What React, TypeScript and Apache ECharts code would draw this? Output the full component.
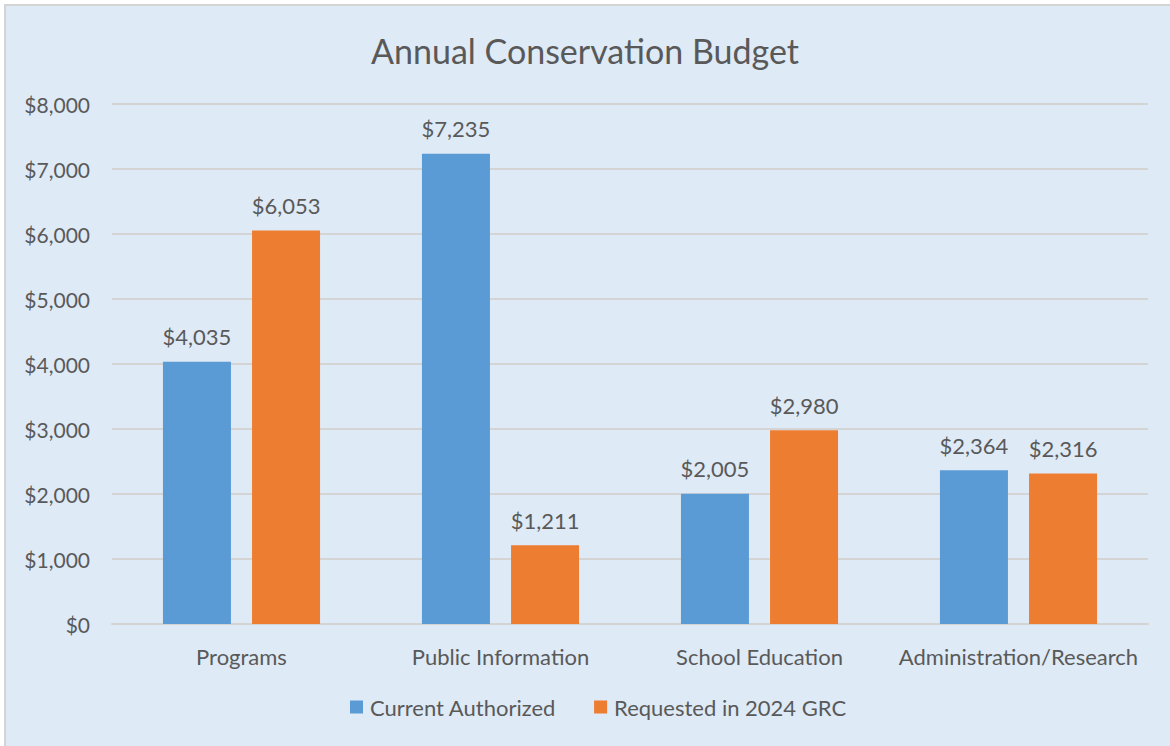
import React, { useEffect, useRef } from "react";
import * as echarts from "echarts";

const categories = ["Programs", "Public Information", "School Education", "Administration/Research"];
const currentAuthorized = [4035, 7235, 2005, 2364];
const requested2024 = [6053, 1211, 2980, 2316];
const seriesNames = ["Current Authorized", "Requested in 2024 GRC"];
const yTicks = { min: 0, max: 8000, interval: 1000 };

const FONT = "Lato, 'Open Sans', sans-serif";
const TEXT = "#595959";

const money = (v: number) => "$" + Number(v).toLocaleString("en-US");

export default function App() {
  const ref = useRef<HTMLDivElement>(null);
  useEffect(() => {
    if (!ref.current) return;
    const chart = echarts.init(ref.current, null, { renderer: "svg" });
    const labelCfg = {
      show: true,
      position: "top",
      distance: 14,
      formatter: (p: any) => money(p.value),
      color: TEXT,
      fontSize: 22,
      fontFamily: FONT,
    };
    chart.setOption({
      animation: false,
      backgroundColor: "#ffffff",
      textStyle: { fontFamily: FONT },
      graphic: [
        {
          type: "rect",
          shape: { x: 5, y: 5, width: 1170, height: 746 },
          style: { fill: "#DEEAF6", stroke: "#D4D4D4", lineWidth: 2 },
          z: -10,
          silent: true,
        },
      ],
      title: {
        text: "Annual Conservation Budget",
        left: "center",
        top: 28,
        textStyle: { color: TEXT, fontSize: 34, fontWeight: "normal", fontFamily: FONT },
      },
      legend: {
        bottom: 23,
        left: 345,
        itemWidth: 13,
        itemHeight: 13,
        itemGap: 38,
        icon: "rect",
        textStyle: { color: TEXT, fontSize: 22, fontFamily: FONT, padding: [0, 0, 0, 2] },
        data: seriesNames,
      },
      grid: { left: 112, right: 22, top: 104, bottom: 122, containLabel: false },
      xAxis: {
        type: "category",
        data: categories,
        axisLine: { show: true, lineStyle: { color: "#D4D4D4", width: 2 } },
        axisTick: { show: false },
        axisLabel: { color: TEXT, fontSize: 22, fontFamily: FONT, margin: 21, interval: 0 },
      },
      yAxis: {
        type: "value",
        min: yTicks.min,
        max: yTicks.max,
        interval: yTicks.interval,
        axisLine: { show: false },
        axisTick: { show: false },
        splitLine: { lineStyle: { color: "#D4D4D4", width: 2 } },
        axisLabel: { color: TEXT, fontSize: 21, fontFamily: FONT, margin: 22, formatter: (v: number) => money(v) },
      },
      series: [
        {
          name: seriesNames[0],
          type: "bar",
          data: currentAuthorized,
          barWidth: 68,
          barGap: "31%",
          itemStyle: { color: "#5B9BD5" },
          label: labelCfg,
        },
        {
          name: seriesNames[1],
          type: "bar",
          data: requested2024,
          barWidth: 68,
          itemStyle: { color: "#ED7D31" },
          label: labelCfg,
        },
      ],
    });
    return () => chart.dispose();
  }, []);
  return (
    <div
      ref={ref}
      style={{ position: "absolute", left: 0, top: 0, width: 1170, height: 746 }}
    />
  );
}
